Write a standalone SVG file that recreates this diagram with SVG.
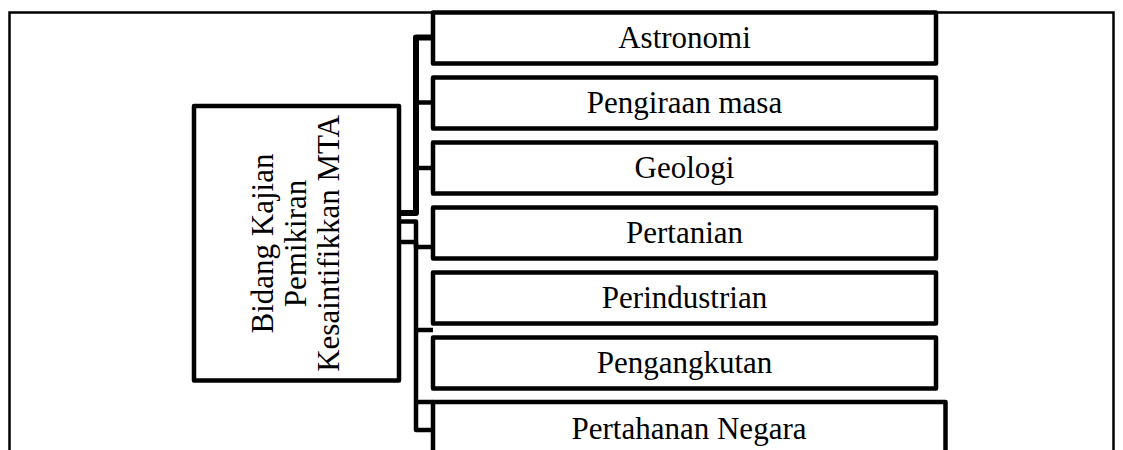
<svg xmlns="http://www.w3.org/2000/svg" width="1123" height="450" viewBox="0 0 1123 450">
  <style>
    .frame { fill: none; stroke: #000; stroke-width: 2.5; }
    .box { fill: #fff; stroke: #000; stroke-width: 4.5; stroke-linejoin: round; }
    .conn { fill: none; stroke: #000; stroke-width: 4.5; stroke-linejoin: round; }
    .lbl { font-family: "Liberation Serif", "Times New Roman", serif; font-size: 31px; fill: #000; text-anchor: middle; }
  </style>

  <!-- outer page frame -->
  <path class="frame" d="M9.5,450 V12.5 H1113.5 V450"/>

  <!-- connectors from the main box to each topic -->
  <g id="connectors">
    <path class="conn" d="M399,213 H416 V37.5 H433" style="stroke-width:6"/>
    <path class="conn" d="M416,102.5 H433"/>
    <path class="conn" d="M416,168 H433"/>
    <path class="conn" d="M399,221.5 H416 V430 H433"/>
    <path class="conn" d="M399,242 H416 V247 H433"/>
    <path class="conn" d="M416,330 H433"/>
    <path class="conn" d="M416,402 H433"/>
  </g>

  <!-- main subject box -->
  <g id="node-main">
    <rect class="box" x="194" y="106" width="205" height="274.5"/>
    <text class="lbl" transform="translate(272.5,243.5) rotate(-90)">Bidang Kajian</text>
    <text class="lbl" transform="translate(305.5,243.5) rotate(-90)">Pemikiran</text>
    <text class="lbl" transform="translate(339,243.5) rotate(-90)">Kesaintifikkan MTA</text>
  </g>

  <!-- topic boxes -->
  <g id="node-astronomi">
    <rect class="box" x="433" y="12.5" width="503" height="51"/>
    <text class="lbl" x="684.5" y="48">Astronomi</text>
  </g>
  <g id="node-pengiraan-masa">
    <rect class="box" x="433" y="77.5" width="503" height="51"/>
    <text class="lbl" x="684.5" y="113">Pengiraan masa</text>
  </g>
  <g id="node-geologi">
    <rect class="box" x="433" y="142.5" width="503" height="51"/>
    <text class="lbl" x="684.5" y="178">Geologi</text>
  </g>
  <g id="node-pertanian">
    <rect class="box" x="433" y="207.5" width="503" height="51"/>
    <text class="lbl" x="684.5" y="243">Pertanian</text>
  </g>
  <g id="node-perindustrian">
    <rect class="box" x="433" y="272.5" width="503" height="51"/>
    <text class="lbl" x="684.5" y="308">Perindustrian</text>
  </g>
  <g id="node-pengangkutan">
    <rect class="box" x="433" y="337.5" width="503" height="51"/>
    <text class="lbl" x="684.5" y="373">Pengangkutan</text>
  </g>
  <g id="node-pertahanan-negara">
    <rect class="box" x="433" y="402" width="512.5" height="56"/>
    <text class="lbl" x="689" y="439">Pertahanan Negara</text>
  </g>
</svg>
